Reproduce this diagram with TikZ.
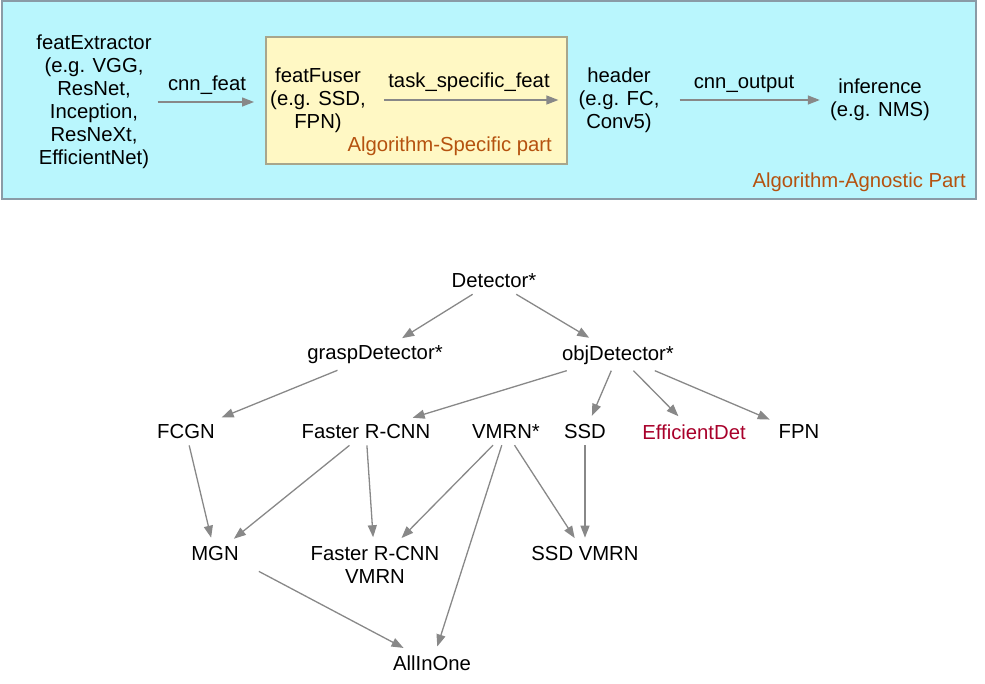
\documentclass[tikz,border=0pt]{standalone}
\usepackage{fontspec}
\setmainfont{Liberation Sans}
\usetikzlibrary{arrows.meta}
\definecolor{agfill}{HTML}{B9F6FD}
\definecolor{agline}{HTML}{8A9BA6}
\definecolor{spfill}{HTML}{FFF8C4}
\definecolor{spline}{HTML}{A8A68C}
\definecolor{lblcol}{HTML}{B5520F}
\definecolor{redcol}{HTML}{A8002A}
\definecolor{arrcol}{HTML}{888888}
\begin{document}
\begin{tikzpicture}[x=1pt,y=-1pt,
  every node/.style={font=\fontsize{20.3}{23}\selectfont, inner sep=6pt},
  txt/.style={align=center},
  lbl/.style={text=lblcol, inner sep=0pt},
  elbl/.style={inner sep=0pt},
  agbox/.style={draw=agline, fill=agfill, line width=1.5pt, inner sep=0pt},
  spbox/.style={draw=spline, fill=spfill, line width=1.2pt, inner sep=0pt},
  arr/.style={draw=arrcol, line width=1.3pt, -{Triangle[length=12pt,width=9pt]}, shorten >=3pt}]
\useasboundingbox (0,0) rectangle (985,683);

% ---------- top part ----------
\node[agbox, minimum width=974pt, minimum height=198pt] (agn) at (489,100) {};
\node[spbox, minimum width=301pt, minimum height=127pt] (spec) at (416.5,100.5) {};

\node[txt] (feat) at (94,102) {featExtractor\\(e.g. VGG,\\ResNet,\\Inception,\\ResNeXt,\\EfficientNet)};
\node[txt] (fuser) at (318,100) {featFuser\\(e.g. SSD,\\FPN)};
\node[txt] (header) at (619,100) {header\\(e.g. FC,\\Conv5)};
\node[txt] (infer) at (880,100) {inference\\(e.g. NMS)};

\draw[arr, shorten >=10pt] (feat.east) -- (feat.east -| fuser.west);
\draw[arr, shorten <=12pt, shorten >=14pt] (fuser.east) -- (fuser.east -| header.west);
\draw[arr, shorten <=14pt, shorten >=4pt] (header.east) -- (header.east -| infer.west);

\node[elbl] (l1) at (207,85) {cnn\_feat};
\node[elbl] (l2) at (469,82) {task\_specific\_feat};
\node[elbl] (l3) at (744,84) {cnn\_output};

\node[lbl, anchor=east] (specl) at (552,146) {Algorithm-Specific part};
\node[lbl, anchor=east] (agnl) at (966,182) {Algorithm-Agnostic Part};

% ---------- tree ----------
\node (det) at (494,281) {Detector*};
\node (grasp) at (375,355) {graspDetector*};
\node (obj) at (618,355) {objDetector*};
\node (fcgn) at (186,432) {FCGN};
\node (frcnn) at (366,432) {Faster R-CNN};
\node (vmrn) at (506,432) {VMRN*};
\node (ssd) at (585,432) {SSD};
\node[text=redcol] (eff) at (694,432) {EfficientDet};
\node (fpn) at (799,432) {FPN};
\node (mgn) at (215,554) {MGN};
\node[txt] (frv) at (375,565) {Faster R-CNN\\VMRN};
\node (ssdv) at (585,554) {SSD VMRN};
\node (aio) at (432,663) {AllInOne};

\draw[arr] (det) -- (grasp);
\draw[arr] (det) -- (obj);
\draw[arr] (grasp) -- (fcgn);
\draw[arr] (obj) -- (frcnn);
\draw[arr] (obj) -- (ssd);
\draw[arr] (obj) -- (eff);
\draw[arr] (obj) -- (fpn);
\draw[arr] (fcgn) -- (mgn);
\draw[arr] (frcnn) -- (mgn);
\draw[arr] (frcnn) -- (frv);
\draw[arr] (vmrn) -- (frv);
\draw[arr] (vmrn) -- (aio);
\draw[arr] (vmrn) -- (ssdv);
\draw[arr] (ssd) -- (ssdv);
\draw[arr] ([xshift=14pt,yshift=-4pt]mgn.south east) -- (aio);
\end{tikzpicture}
\end{document}
